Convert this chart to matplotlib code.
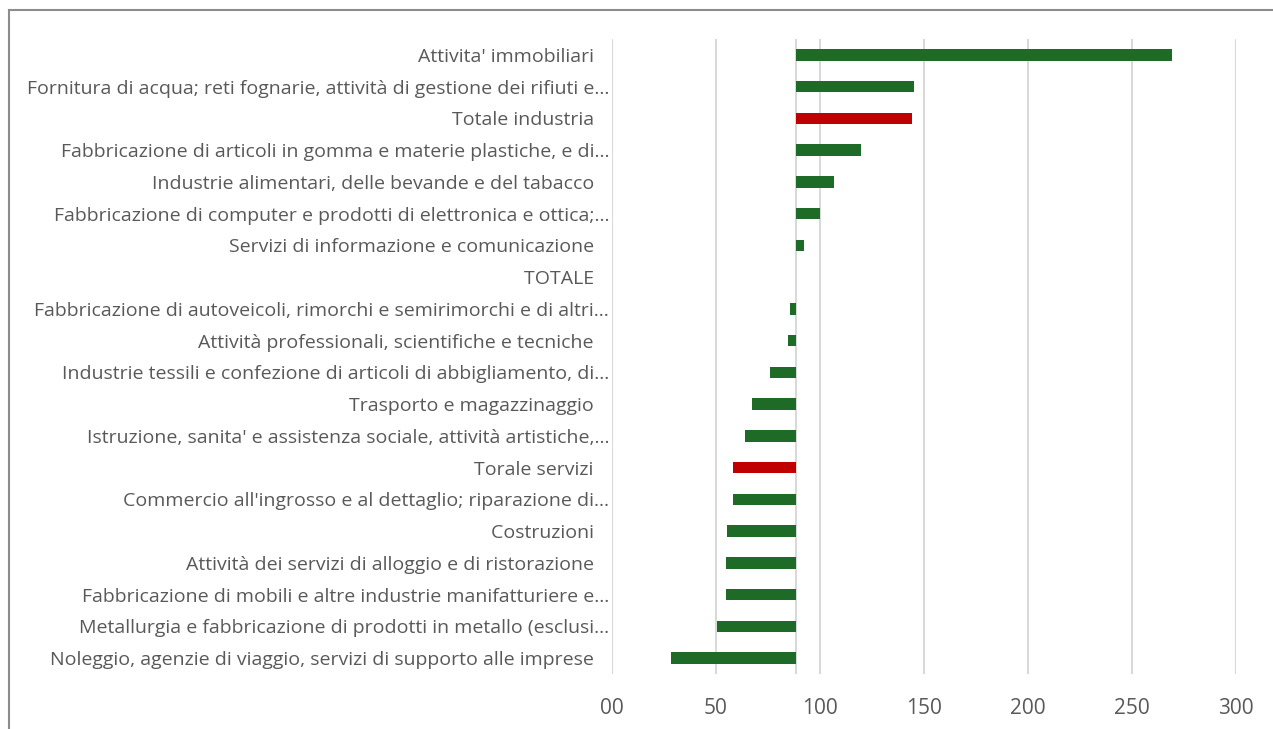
import matplotlib.pyplot as plt
from matplotlib.lines import Line2D

# categories top to bottom, baseline is TOTALE
categories = [
    "Attivita' immobiliari   ",
    "Fornitura di acqua; reti fognarie, attività di gestione dei rifiuti e...",
    "Totale industria   ",
    "Fabbricazione di articoli in gomma e materie plastiche, e di...",
    "Industrie alimentari, delle bevande e del tabacco   ",
    "Fabbricazione di computer e prodotti di elettronica e ottica;...",
    "Servizi di informazione e comunicazione   ",
    "TOTALE   ",
    "Fabbricazione di autoveicoli, rimorchi e semirimorchi e di altri...",
    "Attività professionali, scientifiche e tecniche   ",
    "Industrie tessili e confezione di articoli di abbigliamento, di...",
    "Trasporto e magazzinaggio   ",
    "Istruzione, sanita' e assistenza sociale, attività artistiche,...",
    "Torale servizi   ",
    "Commercio all'ingrosso e al dettaglio; riparazione di...",
    "Costruzioni   ",
    "Attività dei servizi di alloggio e di ristorazione   ",
    "Fabbricazione di mobili e altre industrie manifatturiere e...",
    "Metallurgia e fabbricazione di prodotti in metallo (esclusi...",
    "Noleggio, agenzie di viaggio, servizi di supporto alle imprese   ",
]
values = [269.2, 145.2, 144.2, 119.7, 106.6, 99.8, 92.5, 88.7, 85.7, 84.5,
          75.8, 67.5, 63.9, 58.2, 58.0, 55.3, 55.0, 55.0, 50.3, 28.5]
baseline = 88.7
highlight = ["Totale industria   ", "Torale servizi   "]
xticks = [0, 50, 100, 150, 200, 250, 300]
xticklabels = ["00", "50", "100", "150", "200", "250", "300"]

green = "#1d6b27"
red = "#c00000"
grey_text = "#595959"

plt.rcParams['font.family'] = ['Open Sans', 'DejaVu Sans']

fig = plt.figure(figsize=(12.73, 7.29), dpi=100)
W, H = 1273, 729
ax = fig.add_axes([612 / W, 1 - 674 / H, (1236 - 612) / W, (674 - 39) / H])

ypos = list(range(len(categories)))
colors = [red if c in highlight else green for c in categories]
widths = [v - baseline for v in values]
ax.barh(ypos, widths, left=baseline, height=0.37, color=colors,
        linewidth=0, zorder=3)

ax.set_xlim(0, 300)
ax.set_ylim(len(categories) - 0.5, -0.5)
ax.set_xticks(xticks)
ax.set_xticklabels(xticklabels, fontsize=15, color=grey_text)
ax.set_yticks(ypos)
ax.set_yticklabels(categories, fontsize=14, color=grey_text)
ax.tick_params(axis="both", length=0)
ax.tick_params(axis="y", pad=2)
ax.tick_params(axis="x", pad=17)

ax.grid(axis="x", color="#d9d9d9", linewidth=1.5, zorder=0)
ax.axvline(baseline, color="#d9d9d9", linewidth=1.5, zorder=1)
for s in ax.spines.values():
    s.set_visible(False)

# outer chart border (cropped at right and bottom)
fig.add_artist(Line2D([9 / W, 1], [1 - 10 / H, 1 - 10 / H], color="#8c8c8c", linewidth=1.5))
fig.add_artist(Line2D([9 / W, 9 / W], [0, 1 - 10 / H], color="#8c8c8c", linewidth=1.5))

fig.savefig("out.png", dpi=100)
